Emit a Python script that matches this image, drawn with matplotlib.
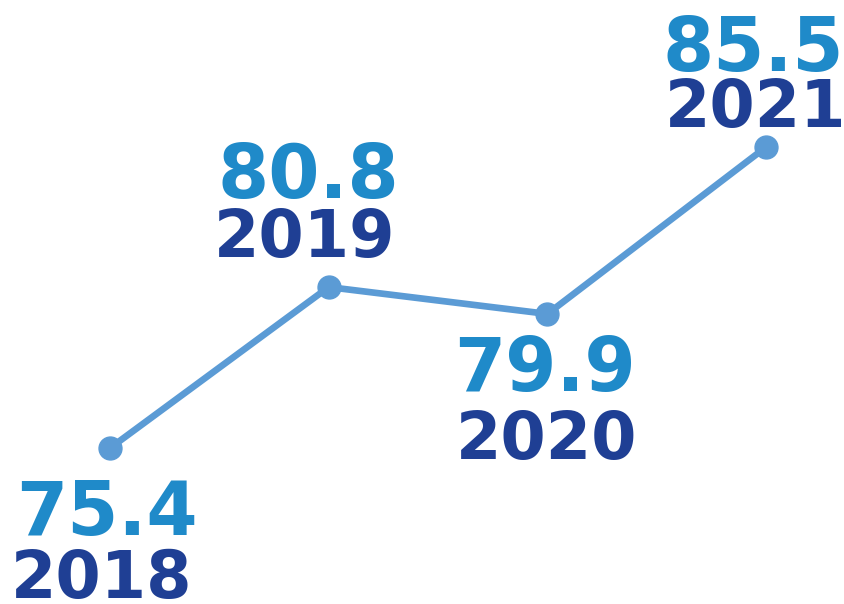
import matplotlib
matplotlib.use("Agg")
import matplotlib.pyplot as plt

years = ["2018", "2019", "2020", "2021"]
values = [75.4, 80.8, 79.9, 85.5]
value_labels = ["75.4", "80.8", "79.9", "85.5"]

line_color = "#5b9bd5"
value_color = "#1f8ac9"
year_color = "#1f3f94"

# label offsets (pixels) relative to each point: (dx, value_dy, year_dx, year_dy)
offsets = [(-3, -87, -8, -150), (-20, 89, -24, 30), (-2, -77, -1, -145), (-13, 76, -11, 20)]

fig = plt.figure(figsize=(8.44, 6.04), dpi=100)
ax = fig.add_axes([0, 0, 1, 1])
x = list(range(len(years)))
ax.plot(x, values, color=line_color, lw=4.8, marker="o", ms=16.5, solid_capstyle="round")
ax.set_xlim(-0.503, 3.356)
ax.set_ylim(70.17, 90.43)
ax.axis("off")

for xi, v, vl, yr, (dx, vdy, ydx, ydy) in zip(x, values, value_labels, years, offsets):
    ax.annotate(vl, (xi, v), xytext=(dx, vdy), textcoords="offset pixels",
                ha="center", va="baseline", fontsize=53, fontweight="bold",
                color=value_color, family="DejaVu Sans")
    ax.annotate(yr, (xi, v), xytext=(ydx, ydy), textcoords="offset pixels",
                ha="center", va="baseline", fontsize=47, fontweight="bold",
                color=year_color, family="DejaVu Sans")

fig.savefig("out.png", dpi=100)
